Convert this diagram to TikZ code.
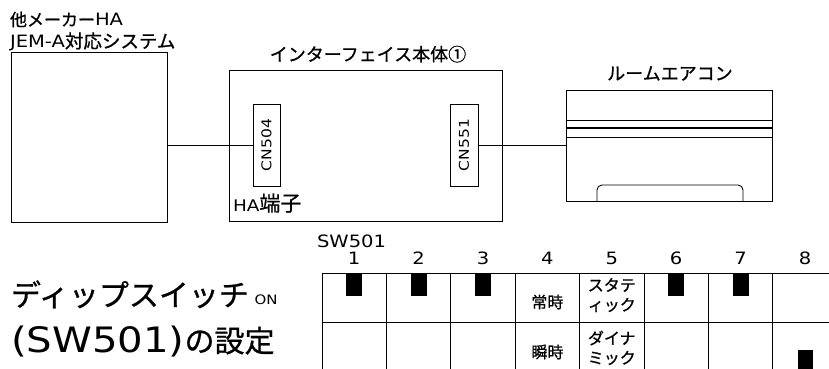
\documentclass[tikz,border=0pt]{standalone}
\usepackage{graphicx}
\usepackage{fontspec}
\setmainfont{Noto Sans CJK JP}[FakeBold=0.8]
\newfontfamily\lat{DejaVu Sans}
\newcommand\pxsize[1]{\fontsize{#1}{#1}\selectfont}
% Latin text, set slightly wide
\newcommand\wlat[2]{\scalebox{1.15}[1]{\lat\pxsize{#1}#2}}

\begin{document}
\begin{tikzpicture}[x=1pt,y=-1pt,
  box/.style={draw, line width=0.9pt, inner sep=0pt},
  wire/.style={line width=0.9pt},
  lbl/.style={inner sep=0pt, outer sep=0pt},
  knob/.style={fill=black, draw=none},
  gridline/.style={line width=0.9pt}]
\useasboundingbox (0,0) rectangle (829,369);

% external HA system
\node[box, minimum width=156pt, minimum height=170pt] (ext) at (89,137) {};
\node[lbl, anchor=base west] (extT1) at (10,26) {\pxsize{17}他メーカー\wlat{17}{HA}};
\node[lbl, anchor=base west] (extT2) at (10,48) {\wlat{17}{JEM-A}\pxsize{18.5}対応システム};

% interface unit with its two connectors
\node[box, minimum width=273pt, minimum height=151pt] (ifc) at (365.5,145.5) {};
\node[lbl, anchor=base] (ifcT) at (368,61) {\pxsize{18}インターフェイス本体①};
\node[box, minimum width=27pt, minimum height=82pt] (cn504) at (266.5,145) {};
\node[lbl, rotate=90] (cn504T) at (cn504) {\wlat{13.5}{CN504}};
\node[box, minimum width=28pt, minimum height=82pt] (cn551) at (464,145) {};
\node[lbl, rotate=90] (cn551T) at (cn551) {\wlat{13.5}{CN551}};
\node[lbl, anchor=base west] (haT) at (233,211) {\wlat{16}{HA}\pxsize{21}端子};

% room air conditioner
\node[box, minimum width=206pt, minimum height=111pt] (ac) at (669,145.5) {};
\node[lbl, anchor=base] (acT) at (670,80) {\pxsize{18}ルームエアコン};
\draw[wire] (ac.west |- 0,120) -- (ac.east |- 0,120);
\draw[line width=1.4pt] (ac.west |- 0,128) -- (ac.east |- 0,128);
\draw[wire] (ac.west |- 0,137) -- (ac.east |- 0,137);
\draw[wire, rounded corners=5pt] (597,201) -- (597,185) -- (743,185) -- (743,201);

% wiring
\draw[wire] (ext.east |- cn504.west) -- (cn504.west);
\draw[wire] (cn551.east) -- (cn551.east -| ac.west);

% DIP switch heading
\node[lbl, anchor=base west] (headA) at (11,306) {\pxsize{30}ディップスイッチ};
\node[lbl, anchor=base west] (headB) at (11,352) {\wlat{35}{(SW501)}\pxsize{30}の設定};
\node[lbl] (onT) at (266,300) {\wlat{13}{ON}};
\node[lbl, anchor=base west] (swT) at (317,247) {\wlat{17}{SW501}};

% switch table
\foreach \i in {0,...,8}
  \draw[gridline] ({322+64.4*\i},273) -- ({322+64.4*\i},372);
\draw[gridline] (322,273) -- (840,273);
\draw[gridline] (322,322) -- (840,322);
\foreach \n in {1,...,8}
  \node[lbl, anchor=base] (num\n) at ({322+64.4*(\n-0.5)},264) {\wlat{17}{\n}};

% switch positions
\foreach \n in {1,2,3,6,7}
  \fill[knob] ({322+64.4*(\n-0.5)-8},273) rectangle ({322+64.4*(\n-0.5)+8},296);
\fill[knob] ({322+64.4*7.5-7.5},350) rectangle ({322+64.4*7.5+7.5},372);

% settings of switches 4 and 5
\node[lbl] (s4on) at (547.4,302) {\pxsize{16}常時};
\node[lbl] (s4off) at (547.4,352) {\pxsize{16}瞬時};
\node[lbl] (s5onA) at (611.8,285) {\pxsize{16}スタテ};
\node[lbl] (s5onB) at (611.8,305) {\pxsize{16}ィック};
\node[lbl] (s5offA) at (611.8,338) {\pxsize{16}ダイナ};
\node[lbl] (s5offB) at (611.8,358) {\pxsize{16}ミック};
\end{tikzpicture}
\end{document}
